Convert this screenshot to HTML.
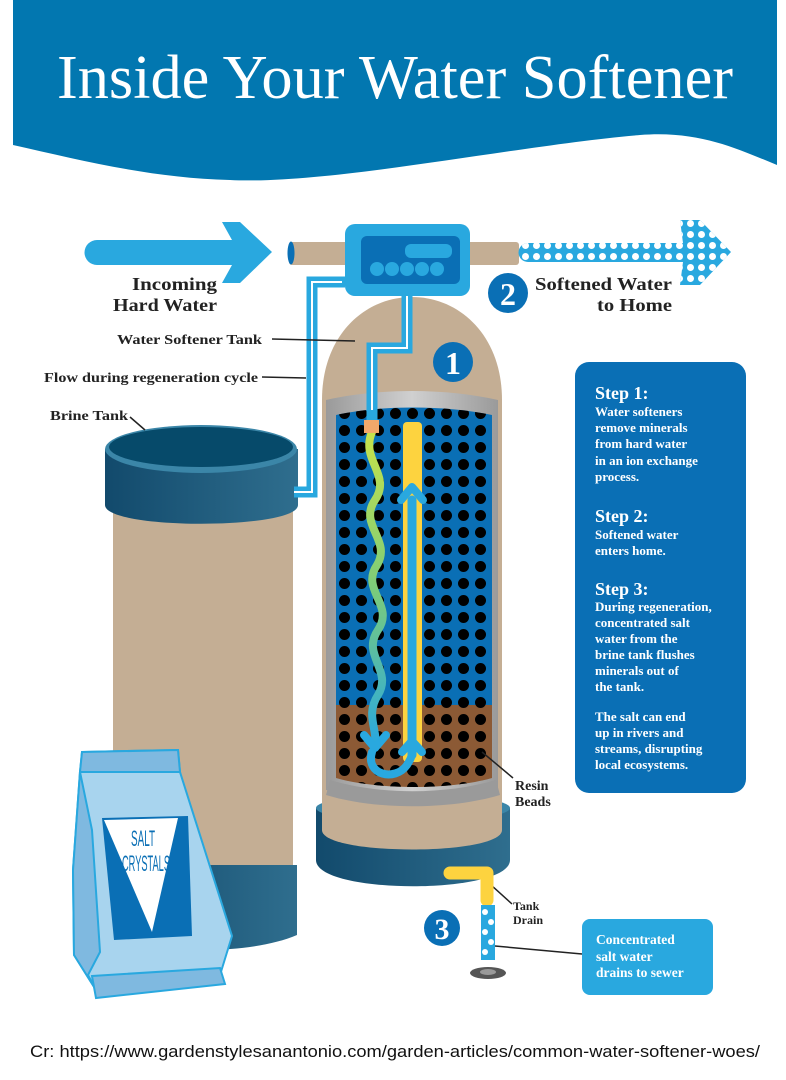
<!DOCTYPE html>
<html><head><meta charset="utf-8"><style>
html,body{margin:0;padding:0;background:#fff;width:786px;height:1080px;overflow:hidden}
svg{display:block}
.s{font-family:"Liberation Serif",serif;font-weight:bold}
</style></head><body>
<svg width="786" height="1080" viewBox="0 0 786 1080" xmlns="http://www.w3.org/2000/svg">
<defs>
<pattern id="dots" x="336" y="405" width="17" height="17" patternUnits="userSpaceOnUse">
<circle cx="8.5" cy="8.5" r="5.5" fill="#000"/></pattern>
<pattern id="wd" x="520" y="240" width="11" height="11" patternUnits="userSpaceOnUse">
<circle cx="5.5" cy="5.5" r="3.5" fill="#fff"/></pattern>
<linearGradient id="base" x1="0" x2="1"><stop offset="0" stop-color="#124a6c"/><stop offset="1" stop-color="#2f6e8e"/></linearGradient>
<linearGradient id="wave" x1="0" y1="0" x2="0" y2="1"><stop offset="0" stop-color="#c7e24a"/><stop offset="0.5" stop-color="#7ccc7a"/><stop offset="1" stop-color="#29a8df"/></linearGradient>
<linearGradient id="gray" x1="0" x2="1"><stop offset="0" stop-color="#9a9a9a"/><stop offset="0.5" stop-color="#d0d0d0"/><stop offset="1" stop-color="#9a9a9a"/></linearGradient>
</defs>
<!-- header -->
<path d="M13,0 H777 V165 C740,150 700,130 640,135 C520,145 330,185 230,180 C150,178 80,160 13,145 Z" fill="#0277b0"/>
<text x="57" y="98" textLength="676" lengthAdjust="spacingAndGlyphs" font-family="Liberation Serif,serif" font-size="62" fill="#fff">Inside Your Water Softener</text>

<!-- incoming arrow -->
<path d="M97,240 H232 L222,222 H240 L272,252 L240,283 H222 L232,265 H97 A12.5,12.5 0 0 1 97,240 Z" fill="#29a8df"/>
<!-- pipe -->
<rect x="289" y="242" width="230" height="23" rx="3" fill="#c4ae94"/>
<ellipse cx="291" cy="253" rx="3.5" ry="11.5" fill="#0a6fb5"/>
<!-- dotted arrow -->
<path d="M528,243 H683 L680,220 H700 L731,252 L700,285 H680 L683,262 H528 A9.5,9.5 0 0 1 528,243 Z" fill="#29a8df"/>
<path d="M528,243 H683 L680,220 H700 L731,252 L700,285 H680 L683,262 H528 A9.5,9.5 0 0 1 528,243 Z" fill="url(#wd)"/>

<!-- brine tank -->
<rect x="113" y="480" width="180" height="400" fill="#c4ae94"/>
<path d="M113,865 H297 V935 C250,955 160,955 113,935 Z" fill="url(#base)"/>
<path d="M105,449 V505 C105,530 298,530 298,505 V449 Z" fill="url(#base)"/>
<ellipse cx="201" cy="449" rx="96" ry="24" fill="#3b86a8"/>
<ellipse cx="201" cy="447" rx="92" ry="20" fill="#064a6a"/>

<!-- softener tank -->
<path d="M316,808 V860 C316,895 510,895 510,860 V808 Z" fill="url(#base)"/>
<ellipse cx="413" cy="808" rx="97" ry="14" fill="#3b86a8"/>
<path d="M322,400 C322,335 365,297 412,297 C459,297 502,335 502,400 V830 C502,856 322,856 322,830 Z" fill="#c4ae94"/>
<path d="M326,400 C380,388 445,388 498,400 V790 C450,800 375,800 326,790 Z" fill="url(#gray)"/>
<path d="M336,415 C380,405 445,405 492,415 V705 H336 Z" fill="#0a6fb5"/>
<path d="M336,705 H492 V778 C450,790 378,790 336,778 Z" fill="#8c5a35"/>
<path d="M336,415 C380,405 445,405 492,415 V778 C450,790 378,790 336,778 Z" fill="url(#dots)"/>
<path d="M330,780 C380,795 445,795 496,780 L500,795 C450,810 375,810 326,795 Z" fill="#9a9a9a"/>
<!-- yellow tube -->
<rect x="403" y="422" width="19" height="340" rx="4" fill="#fdd33f"/>
<path d="M412,755 V500" stroke="#29a8df" stroke-width="9" stroke-linecap="round"/>
<path d="M401,500 L412,487 L423,500" fill="none" stroke="#29a8df" stroke-width="8" stroke-linecap="round" stroke-linejoin="round"/>
<!-- wavy -->
<path d="M372,432 C360,460 392,475 375,500 C358,525 392,540 377,565 C360,590 395,605 378,630 C361,655 393,670 378,695 C365,715 378,730 375,745" fill="none" stroke="url(#wave)" stroke-width="8" stroke-linecap="round"/>
<path d="M364,735 L375,748 L386,735" fill="none" stroke="#29a8df" stroke-width="8" stroke-linecap="round" stroke-linejoin="round"/>
<path d="M372,752 C365,775 395,782 407,765 C410,760 412,757 412,752" fill="none" stroke="#29a8df" stroke-width="8" stroke-linecap="round"/>
<path d="M402,752 L412,741 L422,752" fill="none" stroke="#29a8df" stroke-width="8" stroke-linecap="round" stroke-linejoin="round"/>
<rect x="364" y="420" width="15" height="13" fill="#f2a86a"/>

<!-- regen pipes -->
<path d="M294,492 H312 V282 H345" fill="none" stroke="#29a8df" stroke-width="11"/>
<path d="M294,492 H312 V282 H342" fill="none" stroke="#fff" stroke-width="2"/>
<path d="M407,296 V348 H372 V420" fill="none" stroke="#29a8df" stroke-width="11"/>
<path d="M407,296 V348 H372 V410" fill="none" stroke="#fff" stroke-width="2"/>

<!-- control box -->
<rect x="345" y="224" width="125" height="72" rx="10" fill="#29a8df"/>
<rect x="361" y="236" width="99" height="48" rx="6" fill="#0a6fb5"/>
<rect x="405" y="244" width="47" height="14" rx="6" fill="#29a8df"/>
<g fill="#29a8df"><circle cx="377" cy="269" r="7"/><circle cx="392" cy="269" r="7"/><circle cx="407" cy="269" r="7"/><circle cx="422" cy="269" r="7"/><circle cx="437" cy="269" r="7"/></g>

<!-- number circles -->
<circle cx="508" cy="293" r="20" fill="#0a6fb5"/><text x="508" y="305" text-anchor="middle" font-family="Liberation Serif,serif" font-weight="bold" font-size="32" fill="#fff">2</text>
<circle cx="453" cy="362" r="20" fill="#0a6fb5"/><text x="453" y="374" text-anchor="middle" font-family="Liberation Serif,serif" font-weight="bold" font-size="32" fill="#fff">1</text>
<circle cx="442" cy="928" r="18" fill="#0a6fb5"/><text x="442" y="939" text-anchor="middle" font-family="Liberation Serif,serif" font-weight="bold" font-size="30" fill="#fff">3</text>

<!-- labels -->
<g class="s" fill="#222" font-size="18">
<text x="132" y="290" textLength="85" lengthAdjust="spacingAndGlyphs">Incoming</text>
<text x="113" y="311" textLength="104" lengthAdjust="spacingAndGlyphs">Hard Water</text>
<text x="535" y="290" textLength="137" lengthAdjust="spacingAndGlyphs">Softened Water</text>
<text x="597" y="311" textLength="75" lengthAdjust="spacingAndGlyphs">to Home</text>
</g>
<g class="s" fill="#222" font-size="14">
<text x="117" y="344" textLength="145" lengthAdjust="spacingAndGlyphs">Water Softener Tank</text>
<text x="44" y="382" textLength="214" lengthAdjust="spacingAndGlyphs">Flow during regeneration cycle</text>
<text x="50" y="420" textLength="78" lengthAdjust="spacingAndGlyphs">Brine Tank</text>
<text x="515" y="790">Resin</text>
<text x="515" y="806">Beads</text>
</g>
<g class="s" fill="#222" font-size="12">
<text x="513" y="910">Tank</text>
<text x="513" y="924">Drain</text>
</g>
<g stroke="#222" stroke-width="1.5">
<line x1="272" y1="339" x2="355" y2="341"/>
<line x1="262" y1="377" x2="306" y2="378"/>
<line x1="130" y1="417" x2="145" y2="430"/>
<line x1="482" y1="752" x2="513" y2="778"/>
<line x1="480" y1="875" x2="512" y2="904"/>
<line x1="495" y1="946" x2="582" y2="954"/>
</g>

<!-- steps box -->
<rect x="575" y="362" width="171" height="431" rx="14" fill="#0a6fb5"/>
<g class="s" fill="#fff">
<text x="595" y="399" font-size="18">Step 1:</text>
<g font-size="13"><text x="595" y="416">Water softeners</text><text x="595" y="432">remove minerals</text><text x="595" y="448">from hard water</text><text x="595" y="465">in an ion exchange</text><text x="595" y="481">process.</text></g>
<text x="595" y="522" font-size="18">Step 2:</text>
<g font-size="13"><text x="595" y="539">Softened water</text><text x="595" y="555">enters home.</text></g>
<text x="595" y="595" font-size="18">Step 3:</text>
<g font-size="13"><text x="595" y="611">During regeneration,</text><text x="595" y="627">concentrated salt</text><text x="595" y="643">water from the</text><text x="595" y="659">brine tank flushes</text><text x="595" y="675">minerals out of</text><text x="595" y="691">the tank.</text>
<text x="595" y="721">The salt can end</text><text x="595" y="737">up in rivers and</text><text x="595" y="753">streams, disrupting</text><text x="595" y="769">local ecosystems.</text></g>
</g>

<!-- drain -->
<path d="M450,873 H487 V900" fill="none" stroke="#fdd33f" stroke-width="13" stroke-linecap="round" stroke-linejoin="round"/>
<rect x="481" y="905" width="14" height="55" fill="#29a8df"/>
<g fill="#fff"><circle cx="485" cy="912" r="3"/><circle cx="491" cy="922" r="3"/><circle cx="485" cy="932" r="3"/><circle cx="491" cy="942" r="3"/><circle cx="485" cy="952" r="3"/></g>
<ellipse cx="488" cy="973" rx="18" ry="6" fill="#555"/>
<ellipse cx="488" cy="972" rx="8" ry="3" fill="#999"/>
<rect x="582" y="919" width="131" height="76" rx="8" fill="#29a8df"/>
<g class="s" fill="#fff" font-size="13.5"><text x="596" y="944">Concentrated</text><text x="596" y="961">salt water</text><text x="596" y="977">drains to sewer</text></g>

<!-- salt bag -->
<path d="M82,752 L178,750 L180,772 L232,936 L220,975 L96,990 L74,955 L73,870 L80,772 Z" fill="#a8d4ee" stroke="#29a8df" stroke-width="2"/>
<path d="M82,752 L178,750 L180,772 L80,772 Z" fill="#7fb9e0" stroke="#29a8df" stroke-width="2"/>
<path d="M80,772 L73,870 L74,955 L96,990 L88,975 L100,952 L92,830 Z" fill="#7fb9e0" stroke="#29a8df" stroke-width="2"/>
<path d="M92,976 L220,968 L225,984 L96,998 Z" fill="#7fb9e0" stroke="#29a8df" stroke-width="2"/>
<path d="M102,818 L188,816 L192,936 L114,940 Z" fill="#0a6fb5"/>
<path d="M104,820 L178,818 L152,932 Z" fill="#fff"/>
<text x="131" y="846" textLength="24" lengthAdjust="spacingAndGlyphs" font-family="Liberation Sans,sans-serif" font-size="22" fill="#0a6fb5">SALT</text>
<text x="122" y="871" textLength="48" lengthAdjust="spacingAndGlyphs" font-family="Liberation Sans,sans-serif" font-size="22" fill="#0a6fb5">CRYSTALS</text>

<text x="30" y="1057" textLength="730" lengthAdjust="spacingAndGlyphs" font-family="Liberation Sans,sans-serif" font-size="17" fill="#111">Cr: https://www.gardenstylesanantonio.com/garden-articles/common-water-softener-woes/</text>
</svg>
</body></html>
